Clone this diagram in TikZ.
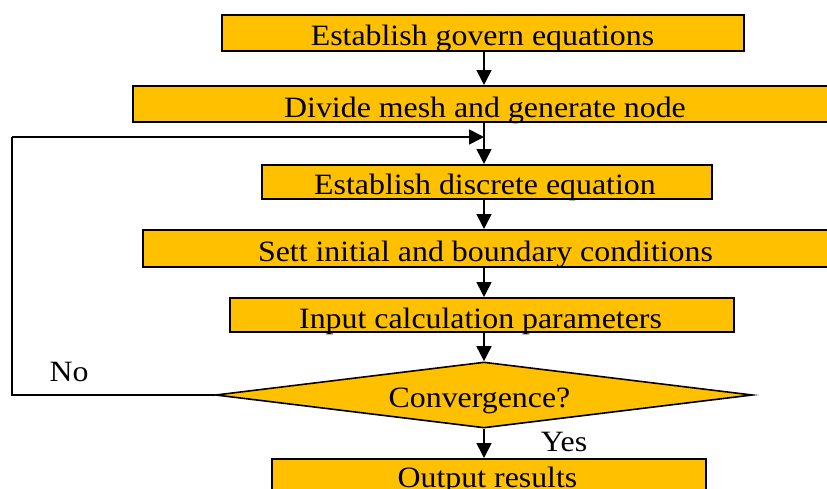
\documentclass[tikz,border=0pt]{standalone}
\usepackage{fontspec}
\setmainfont{Liberation Serif}
\usetikzlibrary{shapes.geometric,arrows.meta}
\definecolor{boxfill}{HTML}{FFC000}
\newcommand{\wtxt}[1]{\scalebox{1.08}[1]{#1}}
\begin{document}
\begin{tikzpicture}[x=1pt,y=-1pt,
  every node/.style={font=\fontsize{29.5}{29.5}\selectfont},
  lbl/.style={anchor=base,inner sep=0pt},
  stepbox/.style={draw=black,line width=1.6pt,fill=boxfill,rectangle,inner sep=0pt,anchor=north west},
  arr/.style={-{Triangle[width=15pt,length=15pt]},line width=1.6pt},
  plain/.style={line width=1.6pt}]
\useasboundingbox (0,0) rectangle (827,488);
\begin{scope}
\clip (0,0) rectangle (827,488);
\node[stepbox,minimum width=522pt,minimum height=36pt] (b1) at (221,14) {};
\node[lbl] (t1) at (482.5,45) {\wtxt{Establish govern equations}};
\node[stepbox,minimum width=704pt,minimum height=36pt] (b2) at (132,85) {};
\node[lbl] (t2) at (485,117) {\wtxt{Divide mesh and generate node}};
\node[stepbox,minimum width=450pt,minimum height=34pt] (b3) at (261,164) {};
\node[lbl] (t3) at (485,194) {\wtxt{Establish discrete equation}};
\node[stepbox,minimum width=686pt,minimum height=37pt] (b4) at (142,229) {};
\node[lbl] (t4) at (485.5,261) {\wtxt{Sett initial and boundary conditions}};
\node[stepbox,minimum width=504pt,minimum height=34pt] (b5) at (229,297) {};
\node[lbl] (t5) at (480.5,328) {\wtxt{Input calculation parameters}};
\node[draw=black,line width=1.6pt,fill=boxfill,diamond,aspect=8.1,inner sep=0pt,minimum width=537pt,minimum height=66pt] (d) at (484,395) {};
\node[lbl] (td) at (479.5,407) {\wtxt{Convergence?}};
\node[stepbox,minimum width=434pt,minimum height=40pt] (b6) at (271,458) {};
\node[lbl] (t6) at (487.5,487) {\wtxt{Output results}};
\end{scope}
\coordinate (j) at (484,137);
\coordinate (c1) at (12,395);
\coordinate (c2) at (12,137);
\draw[arr] (b1.south -| j) -- (b2.north -| j);
\draw[plain] (b2.south -| j) -- (j);
\draw[arr] (j) -- (b3.north -| j);
\draw[arr] (b3.south -| j) -- (b4.north -| j);
\draw[arr] (b4.south -| j) -- (b5.north -| j);
\draw[arr] (b5.south -| j) -- (d.north);
\draw[arr] (d.south) -- (b6.north -| j);
\draw[plain] (d.west) -- (c1) -- (c2);
\draw[arr] (c2) -- (j);
\node[lbl] (no) at (69,381) {\wtxt{No}};
\node[lbl] (yes) at (564,451) {\wtxt{Yes}};
\end{tikzpicture}
\end{document}
